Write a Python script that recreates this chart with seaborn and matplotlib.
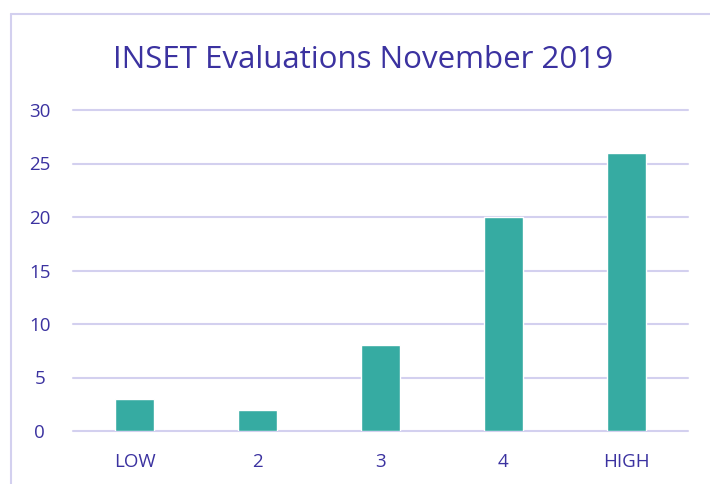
import matplotlib
matplotlib.use("Agg")
import matplotlib.pyplot as plt
import seaborn as sns
import pandas as pd
from matplotlib.lines import Line2D

# 数据
categories = ["LOW", "2", "3", "4", "HIGH"]
counts = [3, 2, 8, 20, 26]
y_ticks = [0, 5, 10, 15, 20, 25, 30]

bar_color = "#36ABA2"
text_color = "#3B32A0"
grid_color = "#D3D0EF"

sns.set_theme(style="white")
plt.rcParams["font.family"] = ["Open Sans", "DejaVu Sans"]

df = pd.DataFrame({"rating": categories, "count": counts})

fig = plt.figure(figsize=(7.1, 4.84), dpi=100)
ax = fig.add_axes([73 / 710, 1 - 431 / 484, 615 / 710, 321 / 484])

sns.barplot(data=df, x="rating", y="count", order=categories, color=bar_color,
            width=0.31, saturation=1, ax=ax, zorder=3)

ax.set_ylim(0, 30)
ax.set_yticks(y_ticks)
ax.set_xlim(-0.5, len(categories) - 0.5)
ax.yaxis.grid(True, color=grid_color, linewidth=1.5, zorder=0)
for gl in ax.yaxis.get_gridlines():
    gl.set_clip_on(False)
ax.set_axisbelow(True)
for s in ax.spines.values():
    s.set_visible(False)
ax.tick_params(axis="both", length=0, labelsize=13.5, labelcolor=text_color)
ax.tick_params(axis="x", pad=16)
ax.tick_params(axis="y", pad=24)
ax.set_xlabel("")
ax.set_ylabel("")
for lbl in ax.get_yticklabels():
    lbl.set_horizontalalignment("center")

fig.text(363 / 710, 1 - 60 / 484, "INSET Evaluations November 2019",
         ha="center", va="center", fontsize=22.5, color=text_color)

# 外框
fig.add_artist(Line2D([11 / 710, 11 / 710], [0, 1 - 14 / 484],
                      transform=fig.transFigure, color=grid_color, linewidth=1.5))
fig.add_artist(Line2D([11 / 710, 1], [1 - 14 / 484, 1 - 14 / 484],
                      transform=fig.transFigure, color=grid_color, linewidth=1.5))

fig.savefig("out.png", dpi=100, facecolor="white")
